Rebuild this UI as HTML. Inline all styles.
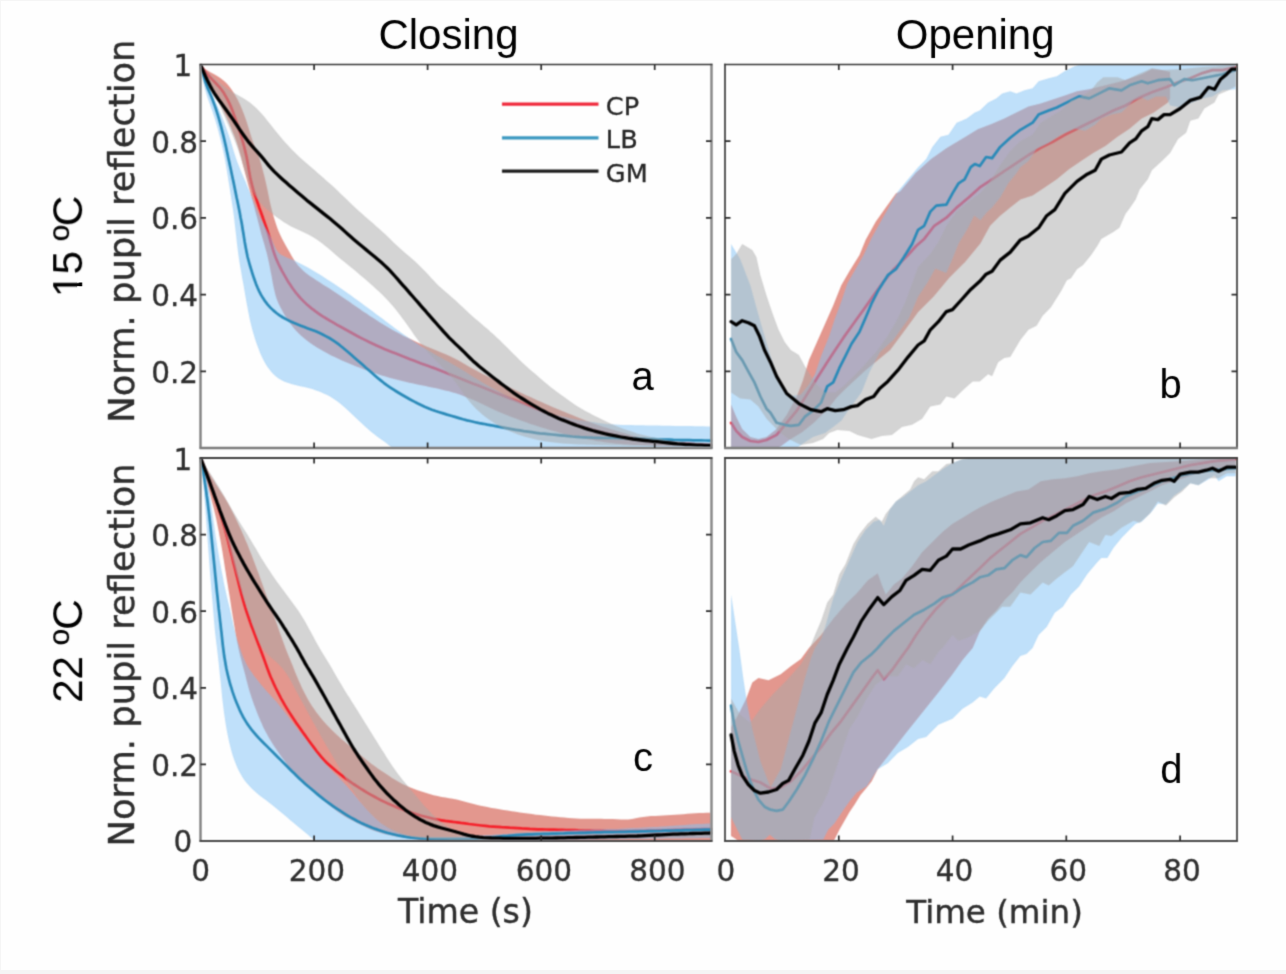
<!DOCTYPE html>
<html lang="en">
<head>
<meta charset="utf-8">
<title>Pupil reflection: closing and opening</title>
<style>
html,body{margin:0;padding:0;background:#f5f5f5;}
body{width:1286px;height:974px;overflow:hidden;position:relative;}
#fig{position:absolute;left:1px;top:1px;width:1285px;height:969px;background:#fefefe;}
svg{position:absolute;left:0;top:0;display:block;}
</style>
</head>
<body>
<div id="fig"></div>
<svg width="1286" height="974" viewBox="0 0 1286 974">
<defs><filter id="bl1" filterUnits="userSpaceOnUse" x="0" y="0" width="1286" height="974" color-interpolation-filters="sRGB"><feConvolveMatrix order="3" kernelMatrix="0.0535 0.1243 0.0535 0.1243 0.2890 0.1243 0.0535 0.1243 0.0535" divisor="1" edgeMode="none" preserveAlpha="false"/></filter><filter id="bl2" filterUnits="userSpaceOnUse" x="0" y="0" width="1286" height="974" color-interpolation-filters="sRGB"><feConvolveMatrix order="3" kernelMatrix="0.0324 0.1152 0.0324 0.1152 0.4096 0.1152 0.0324 0.1152 0.0324" divisor="1" edgeMode="none" preserveAlpha="false"/></filter><filter id="bl3" filterUnits="userSpaceOnUse" x="0" y="0" width="1286" height="974" color-interpolation-filters="sRGB"><feConvolveMatrix order="3" kernelMatrix="0.0283 0.1116 0.0283 0.1116 0.4404 0.1116 0.0283 0.1116 0.0283" divisor="1" edgeMode="none" preserveAlpha="false"/></filter><filter id="bl4" filterUnits="userSpaceOnUse" x="0" y="0" width="1286" height="974" color-interpolation-filters="sRGB"><feConvolveMatrix order="3" kernelMatrix="0.0156 0.0938 0.0156 0.0938 0.5625 0.0938 0.0156 0.0938 0.0156" divisor="1" edgeMode="none" preserveAlpha="false"/></filter>
<clipPath id="clip-a"><rect x="200.5" y="64.5" width="511.0" height="383.5"/></clipPath>
<clipPath id="clip-b"><rect x="725.0" y="64.5" width="512.0" height="383.5"/></clipPath>
<clipPath id="clip-c"><rect x="200.5" y="458.0" width="511.0" height="383.0"/></clipPath>
<clipPath id="clip-d"><rect x="725.0" y="458.0" width="512.0" height="383.0"/></clipPath>
</defs>
<g filter="url(#bl1)">
<g clip-path="url(#clip-a)">
<polygon points="201.1,66.1 204.0,68.4 207.1,70.3 210.4,72.2 213.7,74.0 217.2,76.0 220.6,78.2 223.8,80.7 226.8,83.6 229.5,86.7 231.9,90.0 234.2,93.4 236.2,97.0 238.2,100.8 240.0,104.6 241.7,108.6 243.3,112.6 244.8,116.6 246.3,120.7 247.6,124.7 248.8,128.7 250.0,132.7 251.2,136.6 252.4,140.3 253.8,144.0 255.3,147.6 256.8,151.3 258.2,154.9 259.5,158.6 260.7,162.4 261.7,166.1 262.7,169.9 263.7,173.8 264.7,177.6 265.6,181.5 266.5,185.4 267.4,189.4 268.2,193.4 269.0,197.5 269.8,201.5 270.7,205.5 271.7,209.5 272.7,213.3 273.8,217.2 275.0,221.0 276.2,224.7 277.5,228.4 278.9,232.0 280.5,235.6 282.2,239.1 284.1,242.6 286.0,246.0 288.0,249.4 289.9,252.8 291.8,256.2 293.8,259.6 296.0,262.8 298.3,265.8 301.0,268.6 303.8,271.3 306.8,273.7 309.9,276.0 313.1,278.1 316.3,280.3 319.6,282.3 322.8,284.4 326.2,286.5 329.5,288.6 332.8,290.8 336.2,293.0 339.6,295.2 342.9,297.5 346.3,299.7 349.7,302.0 353.0,304.4 356.4,306.7 359.8,309.0 363.1,311.4 366.5,313.6 369.9,315.9 373.3,318.1 376.6,320.3 380.0,322.4 383.4,324.5 386.7,326.5 390.1,328.5 393.5,330.4 396.9,332.2 400.3,334.1 403.7,335.9 407.3,337.6 410.9,339.3 414.5,341.0 418.1,342.7 421.8,344.3 425.5,345.9 429.1,347.5 432.8,349.0 436.5,350.5 440.1,352.0 443.8,353.6 447.4,355.1 451.1,356.8 454.6,358.5 458.1,360.3 461.6,362.2 465.0,364.2 468.4,366.2 471.9,368.2 475.4,370.1 479.0,372.0 482.6,373.9 486.3,375.8 489.9,377.6 493.6,379.4 497.3,381.3 501.0,383.1 504.6,384.9 508.3,386.8 512.0,388.6 515.7,390.3 519.3,392.1 523.0,393.7 526.7,395.4 530.4,397.1 534.0,398.7 537.7,400.4 541.4,402.0 545.1,403.7 548.7,405.3 552.4,406.9 556.1,408.5 559.8,410.1 563.4,411.6 567.1,413.1 570.8,414.5 574.5,416.0 578.1,417.5 581.8,419.0 585.5,420.4 589.2,421.8 592.9,423.2 596.5,424.6 600.2,425.8 603.9,427.0 607.6,428.1 611.2,429.2 614.9,430.3 618.6,431.5 622.3,432.6 625.9,433.6 629.7,434.7 633.4,435.8 637.2,436.7 641.1,437.7 645.1,438.5 649.1,439.3 653.1,440.0 657.1,440.6 661.1,441.0 665.1,441.4 669.1,441.7 673.1,441.9 677.0,442.1 681.0,442.4 685.0,442.6 688.9,442.8 692.9,443.0 696.9,443.3 700.8,443.5 704.8,443.7 708.8,443.9 710.8,444.0 710.8,446.7 708.8,446.6 704.8,446.6 700.8,446.6 696.9,446.5 692.9,446.5 688.9,446.4 685.0,446.4 681.0,446.3 677.0,446.3 673.1,446.2 669.1,446.2 665.1,446.1 661.1,446.1 657.1,445.9 653.1,445.8 649.1,445.6 645.1,445.5 641.0,445.3 637.0,445.1 632.9,444.9 628.9,444.6 624.8,444.4 620.8,444.1 616.7,443.7 612.7,443.3 608.7,442.8 604.6,442.2 600.6,441.5 596.5,440.9 592.5,440.1 588.4,439.4 584.4,438.6 580.4,437.7 576.3,436.8 572.3,435.9 568.2,434.9 564.2,433.9 560.3,432.9 556.4,431.8 552.5,430.8 548.8,429.7 545.1,428.6 541.4,427.5 537.7,426.3 534.0,425.1 530.4,423.9 526.7,422.6 523.0,421.3 519.3,420.0 515.7,418.6 512.0,417.2 508.3,415.8 504.6,414.3 501.0,412.8 497.3,411.2 493.6,409.6 489.9,407.8 486.2,406.1 482.6,404.3 478.9,402.5 475.2,400.8 471.5,399.2 467.8,397.7 464.1,396.2 460.3,394.8 456.6,393.5 452.8,392.4 448.9,391.3 445.0,390.4 441.2,389.5 437.3,388.6 433.3,387.7 429.4,386.9 425.4,386.0 421.4,385.2 417.4,384.4 413.4,383.5 409.3,382.7 405.3,381.8 401.2,380.8 397.2,379.8 393.2,378.8 389.3,377.7 385.5,376.6 381.7,375.5 378.0,374.3 374.3,373.0 370.7,371.8 367.1,370.5 363.5,369.2 359.9,367.8 356.3,366.5 352.7,365.0 349.1,363.5 345.5,362.0 341.9,360.4 338.3,358.8 334.7,357.1 331.1,355.4 327.6,353.5 324.0,351.6 320.5,349.6 317.0,347.5 313.5,345.3 310.2,343.0 306.9,340.6 303.8,338.1 300.8,335.5 298.0,332.8 295.4,329.9 292.9,327.0 290.6,323.9 288.3,320.6 286.1,317.3 284.0,313.9 282.0,310.3 280.1,306.7 278.3,303.0 276.8,299.3 275.6,295.4 274.6,291.6 273.7,287.6 272.9,283.7 272.2,279.8 271.5,275.8 270.7,271.9 270.0,268.0 269.2,264.0 268.4,260.2 267.5,256.3 266.6,252.5 265.5,248.8 264.5,245.1 263.4,241.3 262.3,237.5 261.2,233.7 260.2,229.8 259.2,225.8 258.1,221.7 257.1,217.7 256.0,213.7 254.9,209.6 253.9,205.6 252.8,201.5 251.7,197.5 250.6,193.4 249.5,189.4 248.4,185.4 247.3,181.3 246.3,177.4 245.2,173.4 244.2,169.5 243.2,165.7 242.2,161.9 241.3,158.1 240.3,154.4 239.2,150.6 238.1,146.8 236.9,143.1 235.6,139.3 234.2,135.6 232.7,131.9 231.2,128.1 229.7,124.4 228.1,120.7 226.4,117.0 224.6,113.2 222.8,109.5 221.0,105.8 219.1,102.1 217.3,98.5 215.4,94.8 213.6,91.1 211.8,87.5 210.0,83.8 208.2,80.1 206.4,76.4 204.6,72.6 202.8,68.8 201.1,65.1" fill="#c8301e" fill-opacity="0.50"/>
<polyline points="201.1,66.1 203.4,69.4 205.9,72.5 208.5,75.5 211.1,78.4 213.8,81.1 216.5,84.0 219.2,86.9 221.7,90.0 224.0,93.3 226.0,96.8 227.9,100.3 229.6,103.9 231.2,107.5 232.6,111.1 234.0,114.9 235.4,118.8 236.8,122.7 238.1,126.7 239.4,130.7 240.7,134.7 241.8,138.5 243.0,142.4 244.0,146.2 245.0,150.1 245.9,154.0 246.8,157.9 247.5,161.8 248.2,165.7 248.8,169.6 249.5,173.6 250.2,177.5 251.1,181.4 252.1,185.4 253.2,189.4 254.4,193.3 255.7,197.1 256.9,200.8 258.2,204.5 259.4,208.1 260.7,211.6 262.0,215.2 263.2,218.8 264.5,222.4 265.8,226.2 267.1,230.0 268.4,233.9 269.6,237.8 270.7,241.6 271.8,245.5 272.9,249.3 274.1,253.0 275.4,256.7 276.9,260.4 278.5,264.0 280.3,267.6 282.1,271.2 284.1,274.7 286.1,278.2 288.2,281.7 290.4,285.1 292.7,288.5 295.2,291.8 297.8,295.0 300.5,298.1 303.4,301.1 306.3,303.9 309.4,306.6 312.6,309.2 315.9,311.7 319.3,314.1 322.7,316.4 326.3,318.5 329.8,320.6 333.4,322.7 337.0,324.8 340.6,326.8 344.2,328.8 347.8,330.8 351.4,332.8 355.0,334.8 358.6,336.7 362.3,338.6 365.9,340.4 369.6,342.3 373.3,344.0 377.0,345.7 380.6,347.3 384.3,348.9 388.0,350.4 391.7,351.9 395.3,353.3 399.0,354.8 402.7,356.3 406.4,357.7 410.0,359.2 413.7,360.6 417.4,362.0 421.1,363.4 424.8,364.7 428.4,366.0 432.1,367.4 435.9,368.7 439.6,370.2 443.4,371.7 447.2,373.2 451.0,374.7 454.7,376.2 458.5,377.7 462.2,379.2 465.9,380.7 469.6,382.2 473.3,383.7 477.0,385.1 480.7,386.6 484.4,388.1 488.1,389.5 491.8,391.0 495.4,392.5 499.1,394.0 502.8,395.4 506.5,396.9 510.1,398.4 513.8,399.8 517.5,401.3 521.2,402.8 524.8,404.2 528.5,405.7 532.2,407.2 535.9,408.7 539.5,410.1 543.2,411.6 546.9,413.1 550.6,414.5 554.3,416.0 557.9,417.5 561.6,419.0 565.3,420.4 569.0,421.8 572.6,423.2 576.3,424.6 580.0,425.8 583.7,427.0 587.4,428.1 591.1,429.2 594.9,430.3 598.7,431.4 602.7,432.4 606.7,433.4 610.7,434.4 614.7,435.3 618.8,436.3 622.8,437.1 626.9,437.9 630.9,438.7 634.9,439.4 639.0,440.0 643.0,440.5 647.1,441.0 651.1,441.4 655.1,441.7 659.1,442.0 663.1,442.3 667.1,442.6 671.1,442.8 675.0,443.0 679.0,443.3 683.0,443.5 686.9,443.7 690.9,443.9 694.9,444.2 698.9,444.4 702.8,444.6 706.8,444.8 710.8,445.1 710.8,445.1" fill="none" stroke="#f5202a" stroke-width="2.7" stroke-linejoin="round" stroke-linecap="round"/>
<polygon points="201.1,66.1 202.4,69.9 203.8,73.7 205.2,77.5 206.7,81.3 208.2,85.1 209.9,88.9 211.5,92.7 213.2,96.4 214.9,100.1 216.5,103.8 218.1,107.4 219.6,111.0 221.1,114.6 222.6,118.2 224.0,121.8 225.3,125.4 226.6,129.1 227.9,132.8 229.2,136.5 230.5,140.3 231.7,144.2 232.8,148.0 234.0,151.9 235.2,155.8 236.5,159.7 237.9,163.5 239.4,167.2 240.9,171.0 242.5,174.7 244.1,178.4 245.7,182.1 247.2,185.9 248.8,189.6 250.3,193.4 251.9,197.1 253.4,200.9 254.9,204.7 256.4,208.5 258.0,212.2 259.6,215.9 261.2,219.6 263.0,223.1 264.9,226.5 266.8,229.8 268.6,233.2 270.4,236.6 272.0,240.1 273.5,243.7 275.0,247.1 276.7,250.2 278.6,252.8 281.1,254.8 284.1,256.3 287.3,257.7 290.7,259.0 294.2,260.5 297.7,262.2 301.1,263.9 304.5,265.7 307.9,267.6 311.3,269.5 314.6,271.4 318.0,273.5 321.4,275.5 324.7,277.7 328.1,279.9 331.4,282.1 334.8,284.3 338.1,286.5 341.4,288.8 344.6,291.1 347.8,293.3 351.1,295.6 354.3,297.9 357.5,300.2 360.7,302.5 363.9,304.9 367.0,307.2 370.1,309.5 373.2,311.8 376.3,314.2 379.5,316.5 382.6,318.8 385.7,321.2 388.8,323.5 391.9,325.8 395.0,328.2 398.2,330.5 401.3,332.8 404.5,335.0 407.7,337.3 411.0,339.5 414.2,341.7 417.5,343.8 420.8,345.9 424.2,348.0 427.5,350.0 430.9,352.0 434.3,354.0 437.7,355.9 441.1,357.8 444.5,359.7 447.9,361.6 451.4,363.5 454.8,365.4 458.2,367.4 461.6,369.5 465.0,371.6 468.4,373.7 471.8,375.9 475.2,378.0 478.6,380.1 482.0,382.2 485.5,384.2 489.0,386.2 492.5,388.2 496.0,390.1 499.6,392.0 503.2,393.9 506.7,395.8 510.4,397.6 514.0,399.4 517.7,401.1 521.4,402.8 525.1,404.3 528.9,405.9 532.7,407.4 536.5,408.9 540.3,410.3 544.1,411.6 547.9,412.8 551.7,413.9 555.5,414.9 559.3,415.8 563.0,416.7 566.8,417.5 570.7,418.4 574.5,419.2 578.5,419.9 582.4,420.6 586.4,421.2 590.5,421.7 594.5,422.3 598.6,422.9 602.6,423.4 606.6,423.9 610.7,424.3 614.7,424.6 618.7,424.8 622.7,425.0 626.7,425.1 630.7,425.1 634.7,425.2 638.7,425.3 642.7,425.3 646.7,425.4 650.7,425.5 654.7,425.5 658.7,425.6 662.7,425.7 666.7,425.7 670.7,425.8 674.7,425.9 678.7,425.9 682.7,426.0 686.7,426.1 690.8,426.1 694.8,426.2 698.8,426.3 702.8,426.3 706.8,426.4 710.8,426.5 710.8,426.5 711.5,460.0 711.5,460.0 707.5,460.0 703.5,459.9 699.5,459.9 695.5,459.9 691.5,459.8 687.5,459.8 683.5,459.7 679.5,459.7 675.5,459.7 671.5,459.6 667.5,459.6 663.5,459.6 659.4,459.5 655.4,459.5 651.4,459.5 647.4,459.4 643.4,459.4 639.4,459.4 635.4,459.3 631.4,459.3 627.4,459.2 623.4,459.2 619.4,459.2 615.4,459.1 611.4,459.1 607.4,459.1 603.4,459.0 599.4,459.0 595.4,459.0 591.4,458.9 587.4,458.9 583.4,458.9 579.4,458.8 575.4,458.8 571.4,458.7 567.4,458.7 563.4,458.7 559.3,458.6 555.3,458.6 551.3,458.6 547.3,458.5 543.3,458.5 539.3,458.5 535.3,458.4 531.3,458.4 527.3,458.3 523.3,458.3 519.3,458.3 515.3,458.2 511.3,458.2 507.3,458.2 503.3,458.1 499.3,458.1 495.3,458.1 491.3,458.0 487.3,458.0 483.3,458.0 479.3,457.9 475.3,457.9 471.3,457.8 467.3,457.8 463.3,457.8 459.2,457.7 455.2,457.7 451.2,457.7 447.2,457.6 443.2,457.6 439.2,457.6 435.2,457.5 431.2,457.5 427.2,457.5 423.2,457.4 419.2,457.4 415.2,457.3 411.2,457.3 407.3,457.0 403.7,456.4 400.4,455.2 397.4,453.3 394.7,451.0 392.1,448.3 389.4,445.7 386.5,443.3 383.4,441.0 380.2,438.8 377.0,436.5 373.9,434.0 370.7,431.5 367.6,428.8 364.5,426.1 361.6,423.3 358.6,420.6 355.7,417.8 352.8,415.0 349.9,412.2 346.9,409.4 343.9,406.7 340.7,404.1 337.5,401.6 334.2,399.2 330.8,397.1 327.2,395.1 323.6,393.4 319.9,391.8 316.1,390.4 312.2,389.1 308.2,388.0 304.2,387.1 300.1,386.2 296.1,385.3 292.2,384.3 288.3,383.1 284.6,381.7 281.1,379.9 277.8,377.9 274.8,375.5 272.0,372.8 269.6,369.8 267.3,366.7 265.3,363.5 263.4,360.0 261.7,356.5 260.1,352.9 258.7,349.3 257.3,345.6 256.0,341.9 254.8,338.2 253.7,334.5 252.6,330.8 251.6,327.1 250.7,323.3 249.8,319.4 249.0,315.5 248.2,311.6 247.5,307.6 246.7,303.5 246.0,299.5 245.3,295.4 244.6,291.4 243.9,287.3 243.2,283.3 242.4,279.2 241.7,275.2 241.0,271.1 240.3,267.1 239.6,263.0 239.0,259.0 238.4,255.0 237.9,251.0 237.4,247.1 236.9,243.1 236.5,239.2 236.1,235.3 235.6,231.3 235.2,227.4 234.7,223.5 234.3,219.5 233.8,215.6 233.3,211.7 232.7,207.8 232.1,203.9 231.5,200.0 230.9,196.1 230.3,192.2 229.7,188.3 229.1,184.4 228.4,180.5 227.8,176.6 227.2,172.8 226.6,168.9 225.9,165.1 225.3,161.4 224.6,157.6 223.8,153.8 223.0,149.9 222.1,146.0 221.2,142.2 220.2,138.3 219.2,134.5 218.2,130.6 217.1,126.6 216.0,122.7 214.8,118.8 213.6,114.9 212.3,111.1 211.0,107.5 209.7,103.8 208.4,100.2 207.1,96.5 206.0,92.8 204.9,89.0 204.0,85.2 203.2,81.3 202.6,77.5 202.0,73.7 201.5,69.9 201.1,66.1" fill="#7fc1f5" fill-opacity="0.50"/>
<polyline points="201.1,66.1 202.0,69.9 202.9,73.7 203.9,77.4 205.1,81.2 206.4,84.8 207.8,88.4 209.4,92.0 210.9,95.6 212.4,99.3 213.8,103.1 215.2,106.9 216.5,110.8 217.7,114.7 218.9,118.7 220.0,122.7 221.1,126.6 222.1,130.6 223.1,134.5 224.0,138.3 224.9,142.2 225.8,146.1 226.6,150.0 227.5,154.0 228.3,157.9 229.2,161.9 230.0,165.8 230.9,169.8 231.7,173.7 232.5,177.6 233.4,181.6 234.2,185.5 235.0,189.5 235.8,193.5 236.6,197.5 237.5,201.5 238.3,205.6 239.1,209.6 239.9,213.6 240.6,217.7 241.4,221.6 242.1,225.6 242.7,229.5 243.4,233.5 244.0,237.4 244.6,241.3 245.3,245.2 246.0,249.1 246.8,253.1 247.6,257.0 248.7,261.0 249.8,265.0 251.0,268.9 252.2,272.8 253.4,276.5 254.7,280.2 256.0,283.9 257.5,287.5 259.1,291.1 260.9,294.6 263.0,298.1 265.2,301.4 267.7,304.6 270.4,307.6 273.3,310.4 276.4,313.0 279.6,315.3 283.0,317.5 286.5,319.4 290.1,321.2 293.6,322.8 297.2,324.3 300.8,325.7 304.4,327.1 307.9,328.4 311.5,329.7 315.1,331.1 318.6,332.6 322.2,334.2 325.7,336.1 329.3,338.0 332.7,340.1 336.0,342.3 339.2,344.7 342.3,347.2 345.3,349.7 348.3,352.2 351.2,354.8 354.2,357.4 357.1,360.0 360.1,362.5 363.0,365.1 365.9,367.7 368.9,370.2 371.8,372.8 374.8,375.4 377.7,377.9 380.7,380.4 383.7,382.8 386.8,385.1 390.0,387.3 393.2,389.4 396.5,391.5 399.8,393.5 403.2,395.5 406.7,397.5 410.2,399.5 413.8,401.4 417.4,403.3 421.0,405.0 424.6,406.7 428.2,408.2 431.9,409.7 435.6,411.0 439.4,412.2 443.2,413.4 447.1,414.6 451.0,415.7 455.0,416.9 459.0,418.1 463.0,419.3 467.1,420.4 471.2,421.3 475.2,422.2 479.3,423.1 483.3,423.8 487.3,424.6 491.4,425.3 495.4,426.1 499.5,426.9 503.5,427.6 507.6,428.4 511.6,429.1 515.7,429.8 519.7,430.4 523.7,431.1 527.8,431.7 531.8,432.2 535.9,432.8 539.9,433.3 544.0,433.7 548.0,434.1 552.0,434.5 556.1,434.9 560.1,435.3 564.2,435.7 568.2,436.1 572.3,436.5 576.3,436.8 580.4,437.1 584.4,437.3 588.4,437.5 592.5,437.7 596.5,437.8 600.6,437.9 604.6,438.0 608.7,438.0 612.7,438.0 616.7,438.1 620.8,438.1 624.8,438.2 628.9,438.3 632.9,438.5 637.0,438.6 641.0,438.8 645.1,438.9 649.1,439.1 653.1,439.2 657.2,439.4 661.2,439.5 665.3,439.6 669.3,439.7 673.3,439.9 677.3,440.0 681.3,440.1 685.2,440.1 689.2,440.2 693.1,440.3 697.0,440.4 701.0,440.4 704.9,440.5 708.8,440.6 710.8,440.6" fill="none" stroke="#2a8ab8" stroke-width="2.7" stroke-linejoin="round" stroke-linecap="round"/>
<polygon points="201.1,66.1 204.1,68.8 207.1,71.4 210.1,74.1 213.0,76.7 216.0,79.4 219.0,82.1 222.1,84.7 225.3,87.3 228.7,89.7 232.2,91.9 235.8,94.0 239.4,96.0 243.0,98.0 246.5,100.2 249.9,102.6 253.1,105.2 256.2,108.0 259.1,110.9 261.9,114.0 264.6,117.1 267.2,120.4 269.9,123.7 272.5,127.1 275.2,130.4 277.9,133.7 280.6,137.0 283.3,140.2 286.0,143.3 288.8,146.3 291.5,149.2 294.3,152.0 297.1,154.7 300.0,157.4 302.8,159.9 305.7,162.4 308.6,165.0 311.5,167.5 314.5,170.1 317.4,172.7 320.4,175.2 323.3,177.8 326.2,180.4 329.2,183.0 332.1,185.6 335.1,188.3 338.0,191.1 340.9,193.9 343.9,196.8 346.8,199.6 349.8,202.5 352.7,205.3 355.6,208.0 358.6,210.7 361.5,213.3 364.5,215.9 367.4,218.4 370.3,221.0 373.3,223.6 376.2,226.2 379.2,228.8 382.1,231.4 385.0,234.1 387.8,236.8 390.7,239.6 393.6,242.4 396.6,245.2 399.6,247.9 402.7,250.7 405.8,253.4 408.9,256.0 412.0,258.7 414.9,261.3 417.8,264.0 420.5,266.7 423.3,269.4 426.0,272.2 428.6,275.1 431.2,278.0 433.9,280.8 436.6,283.7 439.5,286.4 442.4,289.1 445.5,291.7 448.5,294.3 451.5,296.9 454.5,299.6 457.4,302.2 460.3,304.9 463.1,307.6 466.0,310.3 468.9,313.0 471.9,315.7 475.0,318.4 478.1,321.0 481.3,323.7 484.4,326.4 487.6,329.1 490.7,331.9 493.7,334.6 496.7,337.4 499.6,340.1 502.5,343.0 505.3,345.8 508.2,348.6 511.0,351.4 513.8,354.3 516.7,357.1 519.6,359.9 522.5,362.7 525.5,365.5 528.5,368.2 531.6,370.9 534.8,373.6 537.9,376.3 541.0,379.0 544.2,381.7 547.3,384.3 550.5,386.9 553.6,389.3 556.8,391.7 559.9,394.0 563.1,396.3 566.2,398.6 569.3,400.8 572.5,403.0 575.7,405.2 579.0,407.3 582.4,409.3 585.8,411.3 589.4,413.1 592.9,414.9 596.5,416.7 600.1,418.5 603.7,420.3 607.3,422.0 610.9,423.7 614.5,425.3 618.1,426.8 621.7,428.2 625.4,429.5 629.2,430.8 633.1,432.1 637.0,433.4 641.0,434.5 645.1,435.6 649.1,436.5 653.1,437.4 657.2,438.2 661.2,439.0 665.3,439.7 669.3,440.4 673.3,441.1 677.3,441.6 681.3,442.1 685.2,442.4 689.2,442.7 693.1,443.0 697.0,443.2 701.0,443.4 704.9,443.7 708.8,443.9 710.8,444.0 710.8,446.7 710.8,446.7 706.8,446.6 702.8,446.6 698.8,446.6 694.8,446.5 690.8,446.5 686.8,446.5 682.8,446.4 678.9,446.4 674.9,446.4 670.9,446.3 666.9,446.3 662.9,446.3 658.9,446.2 654.9,446.2 650.9,446.2 646.9,446.1 642.9,446.1 638.9,446.0 634.9,446.0 630.9,445.9 626.9,445.8 622.8,445.7 618.8,445.6 614.7,445.5 610.7,445.4 606.6,445.3 602.6,445.2 598.6,445.1 594.5,445.0 590.5,444.8 586.4,444.7 582.4,444.5 578.3,444.4 574.3,444.2 570.2,444.0 566.2,443.7 562.2,443.4 558.1,443.0 554.1,442.5 550.0,442.0 546.0,441.5 541.9,440.8 537.9,440.0 533.9,439.1 529.8,438.1 525.8,437.0 521.8,435.7 517.9,434.4 514.1,433.0 510.4,431.5 506.7,429.9 503.1,428.2 499.6,426.3 496.1,424.3 492.7,422.1 489.3,419.8 486.1,417.4 482.9,414.9 479.9,412.3 477.0,409.7 474.2,406.9 471.6,404.0 469.0,401.0 466.6,397.9 464.3,394.8 462.1,391.6 460.0,388.5 457.8,385.3 455.5,382.2 453.2,379.2 450.7,376.2 448.2,373.4 445.5,370.6 442.9,367.7 440.2,364.9 437.4,362.1 434.7,359.2 431.9,356.3 429.1,353.4 426.4,350.5 423.8,347.4 421.3,344.4 418.8,341.2 416.4,338.0 414.0,334.7 411.7,331.3 409.4,328.0 407.1,324.8 404.8,321.5 402.5,318.4 400.2,315.3 397.8,312.2 395.3,309.1 392.8,306.1 390.3,303.2 387.7,300.3 385.0,297.5 382.3,294.8 379.5,292.1 376.6,289.4 373.7,286.7 370.6,284.0 367.5,281.3 364.4,278.6 361.2,275.9 358.1,273.2 355.0,270.6 351.8,268.0 348.7,265.4 345.7,263.0 342.6,260.6 339.7,258.2 336.8,255.8 333.9,253.3 331.1,250.8 328.2,248.3 325.3,245.9 322.3,243.6 319.2,241.3 316.0,239.1 312.7,237.0 309.2,235.1 305.6,233.2 301.9,231.5 298.1,229.8 294.3,228.0 290.6,226.2 287.0,224.1 283.5,221.9 280.1,219.6 276.7,217.2 273.4,214.7 270.2,212.1 267.0,209.5 264.0,206.7 261.2,203.8 258.6,200.7 256.3,197.6 254.2,194.4 252.4,191.1 250.8,187.6 249.3,184.1 248.0,180.5 246.8,176.8 245.6,173.1 244.4,169.4 243.2,165.7 242.1,162.0 240.9,158.2 239.7,154.5 238.5,150.7 237.2,147.0 235.8,143.2 234.3,139.5 232.8,135.7 231.2,132.0 229.7,128.3 228.1,124.6 226.4,120.8 224.8,117.1 223.1,113.4 221.5,109.7 219.8,106.0 218.1,102.3 216.5,98.7 214.8,95.0 213.2,91.3 211.5,87.7 209.9,84.0 208.2,80.2 206.4,76.5 204.6,72.7 202.9,68.9 201.1,65.1" fill="#a9a9a9" fill-opacity="0.50"/>
<polyline points="201.1,66.1 202.5,69.5 204.0,73.0 205.5,76.4 207.1,79.8 208.8,83.2 210.5,86.6 212.4,90.0 214.4,93.3 216.5,96.5 218.7,99.7 221.0,102.8 223.3,106.0 225.7,109.3 228.2,112.7 230.5,116.0 232.9,119.4 235.2,122.7 237.4,126.0 239.6,129.4 241.9,132.7 244.2,136.0 246.6,139.3 249.0,142.4 251.5,145.3 253.9,148.1 256.4,150.8 258.9,153.6 261.3,156.4 263.8,159.4 266.3,162.5 268.8,165.6 271.5,168.6 274.3,171.6 277.2,174.4 280.2,177.2 283.2,179.9 286.2,182.6 289.4,185.4 292.5,188.0 295.6,190.7 298.8,193.4 301.9,196.1 305.1,198.8 308.2,201.4 311.4,203.9 314.5,206.4 317.7,208.9 320.8,211.4 323.9,213.9 327.1,216.4 330.2,218.8 333.3,221.4 336.3,223.9 339.3,226.5 342.2,229.0 345.0,231.6 347.9,234.2 350.8,236.8 353.8,239.4 356.8,242.0 359.8,244.5 362.9,247.1 366.0,249.6 369.1,252.2 372.2,254.7 375.3,257.3 378.2,259.8 381.2,262.3 384.0,264.9 386.8,267.5 389.5,270.2 392.2,273.1 394.8,276.0 397.4,278.9 399.9,281.8 402.5,284.8 405.1,287.7 407.7,290.7 410.2,293.6 412.8,296.5 415.4,299.5 418.0,302.4 420.5,305.4 423.1,308.3 425.7,311.2 428.2,314.2 430.8,317.1 433.4,320.1 436.0,323.0 438.6,326.0 441.2,328.9 443.8,331.9 446.6,334.9 449.3,337.8 452.2,340.7 455.2,343.6 458.2,346.4 461.2,349.2 464.2,352.1 467.1,355.1 470.0,358.0 473.0,360.9 476.0,363.6 479.1,366.3 482.2,368.8 485.3,371.3 488.5,373.7 491.6,376.2 494.8,378.7 498.0,381.1 501.1,383.6 504.4,386.0 507.6,388.4 510.8,390.8 514.0,393.1 517.3,395.3 520.5,397.5 523.8,399.5 527.1,401.6 530.4,403.6 533.8,405.6 537.3,407.6 540.8,409.6 544.4,411.5 548.0,413.4 551.6,415.1 555.2,416.8 558.8,418.4 562.4,419.9 566.0,421.3 569.6,422.8 573.2,424.1 576.9,425.5 580.7,426.8 584.6,428.1 588.5,429.3 592.5,430.5 596.5,431.6 600.6,432.7 604.6,433.7 608.7,434.6 612.7,435.4 616.7,436.2 620.8,437.0 624.8,437.7 628.9,438.4 632.9,439.0 637.0,439.5 641.0,440.0 645.1,440.5 649.1,440.9 653.1,441.3 657.2,441.7 661.2,442.1 665.3,442.6 669.3,443.0 673.4,443.5 677.4,443.9 681.4,444.2 685.5,444.5 689.5,444.7 693.4,444.9 697.3,445.1 701.2,445.2 705.0,445.3 708.9,445.4 710.8,445.5" fill="none" stroke="#000000" stroke-width="3.3" stroke-linejoin="round" stroke-linecap="round"/>
</g>
<g clip-path="url(#clip-b)">
<polygon points="731.1,404.6 736.2,416.7 742.2,428.9 750.3,437.0 758.4,439.0 766.5,437.0 776.6,428.9 786.7,414.7 796.8,396.5 802.9,380.4 809.0,360.1 817.0,341.9 825.1,323.7 833.2,305.5 841.3,285.3 849.4,271.2 859.5,255.0 865.6,239.9 875.7,221.7 885.8,207.6 895.9,193.4 900.0,191.5 915.6,172.9 931.1,158.9 946.7,148.0 962.2,138.7 977.8,129.3 992.1,123.7 1004.3,118.6 1016.4,112.6 1028.5,106.5 1040.7,103.5 1052.8,99.4 1064.9,95.4 1077.0,91.3 1089.2,89.3 1101.3,86.3 1121.5,81.2 1141.7,74.2 1151.9,69.1 1162.0,70.1 1170.1,72.1 1170.1,98.4 1168.0,102.5 1153.9,112.6 1141.7,118.6 1129.6,128.7 1117.5,136.8 1105.4,145.9 1093.2,153.0 1081.1,161.1 1069.0,169.2 1056.8,179.3 1044.7,187.4 1032.6,195.5 1020.4,199.5 1010.3,207.6 1000.2,215.7 990.1,225.8 980.4,243.5 964.9,262.2 949.3,277.8 933.7,296.4 918.2,312.0 905.8,329.1 890.2,350.0 878.0,360.0 866.0,370.0 855.0,380.0 844.4,390.0 836.9,397.4 827.0,409.9 814.5,422.3 802.1,432.3 789.7,439.7 778.5,448.0 778.0,470.0 731.0,470.0" fill="#c8301e" fill-opacity="0.50"/>
<polyline points="731.1,422.8 736.2,430.9 742.2,437.0 750.3,441.0 758.4,442.0 766.5,440.0 776.6,434.9 786.7,422.8 796.8,410.7 806.9,394.5 817.0,378.3 827.2,362.2 835.2,350.0 843.3,337.9 853.4,323.7 863.6,309.6 873.7,295.4 883.8,281.3 893.9,269.2 902.0,261.1 908.0,255.0 916.1,246.0 924.2,238.9 934.3,225.8 946.4,217.7 956.6,207.6 968.7,197.5 979.8,187.4 992.1,179.3 1004.3,171.2 1016.4,163.1 1028.5,155.0 1040.7,147.9 1052.8,141.9 1064.9,134.8 1077.0,128.7 1089.2,122.7 1101.3,116.6 1113.4,110.5 1125.6,105.5 1139.7,97.4 1151.9,92.3 1166.0,87.3 1178.1,82.2 1190.3,78.2 1202.4,73.1 1212.5,70.1 1222.6,70.1 1235.8,67.1" fill="none" stroke="#f5202a" stroke-width="2.7" stroke-linejoin="round" stroke-linecap="round"/>
<polygon points="731.1,244.1 740.2,259.0 750.3,285.3 760.4,321.7 770.5,356.1 780.7,384.4 788.7,396.5 800.9,394.5 809.0,384.4 815.0,374.3 821.1,356.1 829.2,335.9 835.2,317.7 841.3,301.5 847.4,283.3 855.5,269.2 863.6,255.0 871.6,237.9 881.7,219.7 889.8,205.6 897.9,191.4 908.0,179.3 918.1,167.2 926.2,159.1 932.3,146.9 940.4,136.8 948.5,134.8 956.6,122.7 966.7,118.6 974.8,112.6 979.8,110.5 988.1,102.5 996.2,98.4 1002.2,93.4 1010.3,91.3 1016.4,93.4 1024.5,90.3 1032.6,88.3 1038.6,81.2 1048.7,78.2 1056.8,76.2 1064.9,71.1 1075.0,66.1 1085.1,63.0 1235.8,63.0 1235.8,89.3 1222.6,90.3 1212.5,96.4 1202.4,98.4 1190.3,103.5 1180.2,107.5 1170.1,105.5 1166.0,96.4 1155.9,96.4 1147.8,100.4 1141.7,97.4 1133.7,100.4 1121.5,112.6 1111.4,114.6 1101.3,118.6 1095.2,124.7 1085.1,130.8 1075.0,128.7 1060.9,134.8 1048.7,142.9 1036.6,149.0 1028.5,161.1 1020.4,167.2 1016.4,173.2 1008.3,183.3 1000.2,197.5 992.1,207.6 986.6,212.4 980.4,220.2 974.2,215.6 968.0,228.0 958.6,243.5 952.4,259.1 946.2,273.1 935.3,268.4 927.5,282.4 918.2,296.4 908.9,318.2 893.3,340.0 880.0,352.0 869.6,372.0 861.5,392.5 849.4,408.7 841.3,420.8 833.2,426.9 825.1,432.9 813.0,437.0 800.9,445.1 786.7,457.2 731.0,470.0" fill="#7fc1f5" fill-opacity="0.50"/>
<polyline points="731.1,338.9 736.2,352.0 742.2,360.1 748.3,371.3 754.4,382.4 760.4,396.5 766.5,408.7 770.5,412.7 776.6,422.8 784.7,424.8 790.8,425.8 798.9,424.8 804.9,416.7 813.0,410.7 821.1,402.6 827.2,386.4 833.2,382.4 839.3,368.2 845.4,356.1 851.4,344.0 859.5,331.8 865.6,317.7 871.6,303.5 877.7,291.4 887.8,275.2 895.9,269.2 904.0,257.0 912.1,244.0 918.1,229.8 924.2,225.8 930.3,211.6 936.3,205.6 946.4,204.6 952.5,193.4 958.6,183.3 964.6,179.3 970.7,167.2 974.8,164.1 979.8,166.1 986.1,157.0 992.1,158.1 1000.2,146.9 1010.3,137.8 1020.4,129.8 1032.6,122.7 1038.6,114.6 1048.7,110.5 1056.8,107.5 1069.0,101.4 1079.1,96.4 1089.2,98.4 1099.3,93.4 1109.4,88.3 1121.5,90.3 1129.6,85.3 1141.7,81.2 1147.8,83.3 1157.9,80.2 1170.1,79.2 1174.1,85.3 1184.2,79.2 1192.3,80.2 1202.4,78.2 1212.5,76.2 1222.6,74.2 1231.7,71.1 1235.8,70.1" fill="none" stroke="#2a8ab8" stroke-width="2.7" stroke-linejoin="round" stroke-linecap="round"/>
<polygon points="731.1,259.2 736.2,254.1 742.2,244.0 752.3,250.1 756.4,256.9 760.4,275.2 766.5,295.4 772.6,313.6 778.6,329.8 784.7,341.9 790.8,350.0 798.9,355.1 804.9,366.2 815.0,382.4 825.1,392.5 835.2,392.5 845.4,384.4 861.5,368.2 877.7,350.0 887.0,336.9 896.3,321.3 905.8,301.1 918.1,266.9 930.3,254.1 938.4,242.0 946.4,225.8 956.6,211.6 968.7,201.5 979.8,193.4 990.1,181.3 1000.2,165.1 1010.3,151.0 1020.4,140.9 1032.6,134.8 1040.7,122.7 1050.8,116.6 1060.9,110.5 1071.0,100.4 1081.1,96.4 1091.2,90.3 1097.3,82.2 1103.3,77.2 1117.5,77.2 1125.6,80.2 1137.7,74.2 1147.8,70.1 1151.9,68.1 1162.0,70.1 1182.2,69.1 1202.4,67.1 1235.8,65.1 1235.8,86.3 1228.7,90.3 1218.6,94.4 1214.5,102.5 1204.4,108.5 1198.4,118.6 1190.3,120.7 1186.2,132.8 1178.1,138.9 1170.1,153.0 1162.0,161.1 1151.9,170.2 1147.8,179.3 1139.7,189.4 1135.7,199.5 1129.6,208.6 1125.6,213.7 1119.5,227.8 1113.4,231.9 1101.3,238.9 1097.3,246.0 1091.2,255.0 1083.1,265.1 1077.0,269.2 1071.0,278.3 1066.9,280.3 1060.9,291.4 1050.8,307.6 1042.7,315.7 1036.6,325.8 1028.5,329.8 1020.4,339.9 1010.3,357.1 1004.3,358.1 998.2,362.2 992.1,376.3 988.1,374.3 979.8,381.4 972.7,381.4 962.6,390.5 954.5,398.6 946.4,396.5 940.4,404.6 930.3,406.6 922.2,418.8 912.1,424.8 902.0,426.9 891.9,434.9 881.7,436.0 871.6,439.0 857.5,434.9 849.4,430.9 837.3,429.9 829.2,432.9 823.1,439.0 813.0,443.0 800.9,445.1 788.7,439.0 780.7,432.9 774.6,426.9 766.5,418.8 758.4,406.6 750.3,399.6 740.2,398.6 731.1,392.5" fill="#a9a9a9" fill-opacity="0.50"/>
<polyline points="731.1,321.7 736.2,324.8 742.2,320.7 748.3,322.7 754.4,325.8 759.4,335.9 764.5,350.0 770.5,362.2 776.6,376.3 786.7,393.5 798.9,403.6 811.0,409.7 821.1,411.7 827.2,408.7 835.2,410.7 843.3,409.7 851.4,406.6 857.5,405.6 865.6,399.6 873.7,396.5 879.7,388.4 887.8,381.4 897.9,370.2 908.0,357.1 918.1,345.0 924.2,340.9 930.3,329.8 938.4,321.7 946.4,311.6 952.5,309.6 962.6,298.5 970.7,289.4 979.8,281.3 986.1,274.2 992.1,271.2 1000.2,260.1 1010.3,252.1 1020.4,239.9 1028.5,235.9 1038.6,227.8 1046.7,215.7 1054.8,209.6 1064.9,193.4 1077.0,181.3 1087.2,174.2 1095.2,170.2 1101.3,159.1 1109.4,155.0 1121.5,152.0 1129.6,142.9 1135.7,138.9 1141.7,130.8 1147.8,126.7 1151.9,118.6 1157.9,119.6 1164.0,114.6 1170.1,114.6 1180.2,108.5 1190.3,100.4 1200.4,97.4 1208.5,87.3 1214.5,89.3 1220.6,79.2 1226.7,74.2 1231.7,69.1 1235.8,69.1" fill="none" stroke="#000000" stroke-width="3.3" stroke-linejoin="round" stroke-linecap="round"/>
</g>
<g clip-path="url(#clip-c)">
<polygon points="201.1,459.1 203.1,462.5 205.1,466.0 207.1,469.5 209.2,472.9 211.2,476.4 213.3,479.8 215.4,483.2 217.5,486.6 219.7,489.9 221.8,493.3 224.0,496.6 226.1,500.1 228.1,503.6 230.0,507.1 231.9,510.7 233.8,514.4 235.5,518.1 237.3,521.7 239.0,525.4 240.7,529.0 242.3,532.7 243.9,536.3 245.4,540.0 247.0,543.6 248.5,547.3 249.9,551.0 251.4,554.6 252.8,558.3 254.2,562.0 255.6,565.7 257.0,569.4 258.4,573.1 259.7,576.8 261.0,580.5 262.4,584.3 263.7,588.0 265.1,591.7 266.4,595.4 267.8,599.1 269.1,602.8 270.5,606.5 271.8,610.2 273.2,613.9 274.5,617.6 275.9,621.3 277.2,625.1 278.6,628.9 279.9,632.7 281.3,636.5 282.6,640.3 284.0,644.1 285.4,647.9 286.8,651.6 288.3,655.2 289.8,658.8 291.3,662.5 292.8,666.1 294.2,669.7 295.7,673.4 297.2,677.0 298.8,680.7 300.4,684.3 302.0,688.0 303.8,691.6 305.6,695.1 307.6,698.7 309.6,702.2 311.8,705.7 314.1,709.1 316.5,712.4 318.9,715.6 321.4,718.7 324.0,721.7 326.7,724.7 329.4,727.6 332.3,730.5 335.2,733.3 338.1,736.0 341.1,738.7 344.1,741.2 347.1,743.8 350.2,746.3 353.2,748.8 356.2,751.4 359.3,753.9 362.3,756.4 365.4,758.9 368.5,761.4 371.6,763.9 374.9,766.3 378.2,768.7 381.6,771.0 385.1,773.3 388.5,775.6 392.0,777.9 395.5,780.0 398.9,782.0 402.5,783.9 406.0,785.6 409.7,787.2 413.6,788.7 417.5,790.2 421.5,791.5 425.5,792.8 429.5,794.1 433.6,795.2 437.5,796.1 441.5,796.9 445.4,797.6 449.2,798.2 452.9,798.8 456.7,799.6 460.4,800.4 464.1,801.4 467.8,802.5 471.6,803.5 475.5,804.5 479.4,805.4 483.3,806.3 487.4,807.1 491.4,807.9 495.4,808.6 499.5,809.3 503.5,809.9 507.6,810.6 511.6,811.2 515.7,811.8 519.7,812.4 523.7,813.0 527.8,813.6 531.8,814.1 535.9,814.7 539.9,815.1 544.0,815.6 548.0,816.0 552.0,816.4 556.1,816.8 560.1,817.2 564.2,817.6 568.2,818.0 572.3,818.3 576.3,818.5 580.4,818.7 584.4,818.8 588.4,818.8 592.5,818.8 596.5,818.8 600.6,818.8 604.6,818.9 608.7,818.9 612.7,819.0 616.7,819.3 620.7,819.5 624.6,819.5 628.4,819.4 632.1,818.9 635.8,818.2 639.4,817.5 643.2,816.9 647.1,816.4 651.1,816.1 655.2,815.9 659.2,815.7 663.2,815.5 667.3,815.3 671.3,815.1 675.4,814.8 679.4,814.5 683.5,814.2 687.5,813.8 691.5,813.5 695.4,813.2 699.3,813.0 703.2,812.9 707.0,812.8 710.8,812.8 710.8,812.8 711.5,860.0 709.5,859.9 705.5,859.8 701.5,859.6 697.5,859.5 693.5,859.4 689.5,859.2 685.5,859.1 681.5,858.9 677.5,858.8 673.5,858.6 669.5,858.5 665.5,858.4 661.5,858.2 657.5,858.1 653.5,857.9 649.5,857.8 645.5,857.6 641.5,857.5 637.5,857.3 633.5,857.2 629.5,857.1 625.5,856.9 621.5,856.8 617.5,856.6 613.5,856.5 609.5,856.3 605.5,856.2 601.5,856.1 597.6,855.9 593.6,855.8 589.6,855.6 585.6,855.5 581.6,855.3 577.6,855.2 573.6,855.1 569.6,854.9 565.6,854.8 561.6,854.6 557.6,854.5 553.6,854.3 549.6,854.2 545.6,854.1 541.6,853.9 537.6,853.8 533.6,853.6 529.6,853.5 525.6,853.3 521.6,853.2 517.6,853.0 513.6,852.9 509.6,852.8 505.6,852.6 501.6,852.5 497.6,852.3 493.6,852.2 489.6,852.0 485.6,851.9 481.6,851.8 477.6,851.6 473.6,851.5 469.6,851.3 465.6,851.2 461.6,851.0 457.6,850.9 453.6,850.8 449.6,850.6 445.7,850.3 441.8,849.7 438.1,848.9 434.5,847.7 431.0,846.3 427.5,844.6 424.1,842.9 420.5,841.4 416.9,840.1 413.1,839.2 409.2,838.4 405.3,837.8 401.2,837.3 397.2,836.7 393.1,836.0 389.1,835.1 385.1,834.2 381.0,833.1 377.1,831.8 373.2,830.4 369.5,828.9 365.8,827.3 362.3,825.6 358.8,823.9 355.3,822.1 351.8,820.3 348.4,818.4 344.9,816.4 341.5,814.2 338.1,811.9 334.8,809.6 331.6,807.1 328.5,804.7 325.4,802.2 322.4,799.6 319.4,797.1 316.4,794.6 313.4,792.0 310.5,789.4 307.7,786.8 304.9,784.1 302.2,781.3 299.5,778.5 296.8,775.6 294.1,772.6 291.4,769.5 288.8,766.4 286.3,763.2 283.9,760.1 281.6,756.9 279.3,753.8 277.1,750.6 275.0,747.4 272.9,744.2 270.9,741.0 268.9,737.7 267.0,734.3 265.2,730.9 263.4,727.4 261.8,723.8 260.2,720.2 258.6,716.5 257.1,712.8 255.7,709.1 254.3,705.4 253.0,701.7 251.7,698.0 250.5,694.3 249.3,690.6 248.3,686.9 247.3,683.1 246.3,679.4 245.4,675.6 244.4,671.8 243.4,668.0 242.3,664.0 241.3,660.1 240.2,656.1 239.3,652.1 238.4,648.1 237.6,644.1 236.8,640.2 236.1,636.3 235.4,632.5 234.8,628.6 234.1,624.6 233.5,620.7 232.8,616.7 232.2,612.7 231.5,608.7 230.9,604.6 230.3,600.6 229.7,596.6 229.0,592.5 228.3,588.5 227.7,584.4 227.0,580.4 226.3,576.3 225.7,572.3 225.0,568.2 224.4,564.2 223.8,560.2 223.1,556.1 222.5,552.1 221.8,548.0 221.1,544.0 220.4,539.9 219.6,535.9 218.9,531.9 218.0,527.8 217.2,523.8 216.4,519.8 215.5,515.8 214.6,511.9 213.7,508.0 212.7,504.2 211.7,500.4 210.7,496.6 209.7,492.8 208.7,489.0 207.7,485.3 206.7,481.5 205.7,477.7 204.8,474.0 203.9,470.3 202.9,466.5 202.0,462.8 201.1,459.1" fill="#c8301e" fill-opacity="0.50"/>
<polyline points="201.1,459.1 202.5,462.7 204.0,466.4 205.5,470.1 206.9,473.8 208.3,477.5 209.7,481.2 211.0,484.9 212.2,488.6 213.5,492.3 214.7,496.1 216.0,499.8 217.2,503.6 218.4,507.3 219.5,511.1 220.7,514.8 221.9,518.6 223.0,522.3 224.1,526.1 225.2,529.8 226.2,533.6 227.2,537.3 228.1,541.0 229.1,544.8 230.0,548.5 230.9,552.2 231.9,556.0 232.8,559.7 233.7,563.4 234.7,567.2 235.6,570.9 236.5,574.6 237.5,578.4 238.4,582.1 239.3,585.8 240.3,589.6 241.2,593.3 242.2,597.0 243.2,600.7 244.3,604.4 245.4,608.1 246.6,611.7 247.8,615.3 249.1,619.0 250.3,622.6 251.6,626.2 253.0,629.8 254.3,633.4 255.7,637.1 257.1,640.7 258.5,644.4 259.9,648.0 261.2,651.6 262.6,655.2 263.9,658.8 265.2,662.4 266.5,666.0 267.8,669.6 269.2,673.2 270.6,676.8 272.2,680.3 273.8,683.9 275.5,687.5 277.3,691.1 279.1,694.7 281.0,698.3 283.0,701.8 285.0,705.4 287.1,708.9 289.3,712.4 291.5,715.8 293.8,719.2 296.0,722.6 298.3,725.8 300.6,729.1 302.8,732.2 305.1,735.4 307.3,738.5 309.6,741.7 311.9,744.8 314.2,747.9 316.5,751.0 319.0,754.1 321.5,757.1 324.2,760.1 327.0,763.0 330.1,765.8 333.3,768.6 336.5,771.3 339.9,774.0 343.3,776.6 346.6,779.2 350.0,781.6 353.4,784.0 356.8,786.2 360.2,788.4 363.7,790.5 367.1,792.6 370.6,794.6 374.1,796.5 377.5,798.4 381.0,800.2 384.5,801.9 387.9,803.5 391.4,805.0 394.9,806.4 398.4,807.9 402.0,809.3 405.7,810.7 409.5,812.0 413.4,813.3 417.4,814.5 421.4,815.7 425.5,816.8 429.5,817.8 433.5,818.8 437.5,819.6 441.5,820.3 445.3,820.9 449.2,821.4 453.1,821.9 457.0,822.3 461.0,822.9 465.0,823.4 469.1,824.0 473.2,824.5 477.2,825.0 481.3,825.5 485.3,825.9 489.4,826.3 493.4,826.6 497.5,826.9 501.5,827.2 505.5,827.4 509.6,827.7 513.6,827.9 517.7,828.1 521.7,828.4 525.8,828.6 529.8,828.9 533.9,829.1 537.9,829.3 541.9,829.4 546.0,829.5 550.0,829.6 554.1,829.7 558.1,829.8 562.2,829.9 566.2,830.0 570.2,830.1 574.3,830.2 578.3,830.4 582.4,830.5 586.4,830.6 590.5,830.7 594.5,830.8 598.6,830.9 602.6,830.9 606.6,831.0 610.7,831.0 614.7,831.0 618.8,831.0 622.8,831.0 626.9,831.0 630.9,831.0 634.9,830.9 638.9,830.9 642.9,830.8 646.9,830.7 650.9,830.6 654.9,830.5 658.9,830.4 662.9,830.3 666.9,830.2 670.9,830.0 674.9,829.9 678.9,829.8 682.8,829.7 686.8,829.6 690.8,829.5 694.8,829.4 698.8,829.3 702.8,829.2 706.8,829.1 710.8,829.0 710.8,829.0" fill="none" stroke="#f5202a" stroke-width="2.7" stroke-linejoin="round" stroke-linecap="round"/>
<polygon points="201.1,459.1 202.2,462.7 203.3,466.4 204.3,470.1 205.4,473.8 206.4,477.6 207.2,481.5 208.0,485.4 208.8,489.4 209.5,493.4 210.1,497.5 210.8,501.5 211.4,505.6 212.0,509.6 212.5,513.7 213.1,517.7 213.6,521.7 214.2,525.8 214.7,529.8 215.3,533.9 215.9,537.9 216.6,542.0 217.2,546.0 217.9,550.0 218.6,554.1 219.3,558.1 220.0,562.2 220.8,566.2 221.5,570.3 222.3,574.3 223.1,578.3 223.8,582.4 224.6,586.3 225.5,590.3 226.3,594.1 227.2,597.9 228.1,601.7 229.1,605.4 230.0,609.2 230.9,613.0 231.7,616.9 232.6,620.9 233.4,624.9 234.3,628.8 235.3,632.8 236.3,636.7 237.4,640.5 238.6,644.3 239.9,648.0 241.1,651.6 242.5,655.2 243.9,658.7 245.5,662.2 247.2,665.6 249.3,668.9 251.5,672.1 253.8,675.4 256.2,678.6 258.8,681.8 261.3,685.0 264.0,688.1 266.7,691.2 269.5,694.2 272.2,697.2 274.9,700.1 277.5,703.1 280.1,706.2 282.5,709.2 284.9,712.3 287.3,715.4 289.6,718.5 291.9,721.6 294.3,724.7 296.7,727.8 299.1,730.9 301.6,734.0 304.0,737.0 306.3,740.1 308.7,743.3 311.0,746.4 313.4,749.5 315.9,752.7 318.4,755.8 321.1,758.9 323.7,762.0 326.4,764.9 329.1,767.8 331.8,770.6 334.5,773.4 337.3,776.1 340.1,779.0 342.9,781.8 345.7,784.8 348.5,787.9 351.3,791.0 354.0,794.3 356.7,797.6 359.4,800.9 362.1,804.1 364.8,807.2 367.5,810.2 370.2,813.0 372.9,815.8 375.7,818.4 378.5,821.0 381.5,823.4 384.7,825.6 388.1,827.7 391.6,829.6 395.4,831.3 399.3,832.8 403.3,834.1 407.3,835.2 411.3,836.0 415.3,836.5 419.3,836.8 423.2,837.0 427.2,837.0 431.1,837.0 435.1,837.0 439.0,837.0 443.0,837.0 446.9,837.0 450.9,837.0 454.9,836.9 458.9,836.7 462.9,836.5 467.0,836.3 471.0,836.1 475.1,835.8 479.2,835.6 483.2,835.3 487.3,835.1 491.3,834.9 495.4,834.6 499.5,834.4 503.5,834.1 507.6,833.9 511.6,833.6 515.7,833.3 519.7,833.1 523.7,832.8 527.8,832.5 531.8,832.3 535.9,832.0 539.9,831.8 544.0,831.6 548.0,831.4 552.0,831.2 556.1,831.0 560.1,830.8 564.2,830.6 568.2,830.4 572.3,830.2 576.3,830.0 580.4,829.9 584.4,829.8 588.4,829.7 592.5,829.6 596.5,829.5 600.6,829.4 604.6,829.3 608.7,829.1 612.7,829.0 616.7,828.9 620.8,828.7 624.8,828.5 628.9,828.3 632.9,828.1 637.0,827.9 641.0,827.7 645.1,827.5 649.1,827.3 653.1,827.1 657.2,826.9 661.2,826.6 665.3,826.4 669.3,826.1 673.4,825.8 677.4,825.5 681.4,825.2 685.5,824.9 689.5,824.6 693.5,824.3 697.4,824.1 701.3,823.9 705.1,823.7 708.9,823.6 710.8,823.5 711.5,838.0 709.5,838.0 705.5,838.1 701.5,838.1 697.6,838.2 693.6,838.2 689.6,838.3 685.6,838.3 681.6,838.4 677.7,838.5 673.7,838.5 669.7,838.6 665.7,838.6 661.7,838.7 657.7,838.7 653.8,838.8 649.8,838.8 645.8,838.9 641.8,838.9 637.8,839.0 633.8,839.0 629.9,839.1 625.9,839.2 621.9,839.2 617.9,839.3 613.9,839.3 610.0,839.4 606.0,839.4 602.0,839.5 598.0,839.6 594.0,839.7 590.0,839.8 586.0,839.9 582.0,840.0 578.0,840.0 574.0,840.2 570.0,840.3 566.0,840.4 562.0,840.5 558.0,840.6 554.0,840.7 550.0,840.9 546.0,841.0 542.0,841.2 538.0,841.3 534.0,841.5 530.0,841.6 526.0,841.8 522.0,842.1 518.0,842.3 514.0,842.7 510.0,843.0 506.0,843.4 502.0,843.8 498.0,844.2 494.0,844.6 490.0,845.0 486.0,845.4 482.0,845.8 478.0,846.2 474.0,846.6 470.0,847.0 466.0,847.4 462.0,847.8 458.0,848.2 454.0,848.6 450.0,849.0 446.0,849.3 442.0,849.6 438.0,849.8 434.0,849.9 430.0,850.0 426.0,850.0 422.1,850.0 418.1,850.0 414.1,850.0 410.1,850.0 406.1,850.1 402.1,850.1 398.1,850.1 394.2,850.1 390.2,850.1 386.2,850.1 382.2,850.1 378.2,850.1 374.2,850.1 370.2,850.1 366.3,850.1 362.3,850.1 358.3,850.1 354.3,850.1 350.3,850.1 346.3,850.1 342.3,850.2 338.4,850.1 334.4,850.0 330.6,849.5 327.0,848.7 323.5,847.2 320.3,845.3 317.2,842.9 314.2,840.3 311.2,837.7 308.2,835.1 305.2,832.5 302.2,830.0 299.1,827.4 296.1,824.9 293.1,822.4 290.0,819.9 287.0,817.3 284.0,814.8 280.9,812.3 277.9,809.7 274.9,807.2 271.8,804.7 268.6,802.2 265.4,799.8 262.2,797.4 258.9,794.9 255.8,792.3 252.7,789.5 249.8,786.6 247.1,783.6 244.6,780.4 242.3,777.0 240.3,773.6 238.4,770.1 236.8,766.5 235.3,762.8 233.9,759.1 232.7,755.4 231.6,751.7 230.6,748.0 229.7,744.3 228.8,740.5 228.0,736.6 227.2,732.8 226.5,728.8 225.8,724.8 225.2,720.8 224.6,716.7 224.0,712.7 223.5,708.7 223.0,704.6 222.5,700.6 222.1,696.5 221.7,692.5 221.3,688.4 220.9,684.4 220.5,680.3 220.0,676.3 219.6,672.2 219.2,668.2 218.8,664.1 218.3,660.1 217.9,656.1 217.4,652.1 217.0,648.2 216.5,644.4 216.0,640.5 215.6,636.7 215.1,632.8 214.7,628.8 214.4,624.8 214.0,620.8 213.7,616.8 213.4,612.7 213.0,608.7 212.7,604.6 212.4,600.6 212.0,596.6 211.7,592.5 211.3,588.5 211.0,584.4 210.7,580.4 210.3,576.3 210.0,572.3 209.7,568.2 209.4,564.2 209.1,560.2 208.8,556.1 208.5,552.1 208.2,548.0 207.9,544.0 207.6,539.9 207.3,535.9 207.0,531.9 206.7,527.8 206.4,523.8 206.1,519.7 205.8,515.7 205.5,511.6 205.2,507.6 204.9,503.5 204.5,499.5 204.2,495.5 203.9,491.4 203.6,487.4 203.2,483.3 202.8,479.3 202.5,475.2 202.1,471.2 201.8,467.2 201.4,463.1 201.1,459.1" fill="#7fc1f5" fill-opacity="0.50"/>
<polyline points="201.1,459.1 201.7,463.1 202.4,467.2 203.1,471.2 203.7,475.2 204.4,479.3 205.0,483.3 205.6,487.4 206.2,491.4 206.7,495.5 207.3,499.5 207.8,503.5 208.3,507.6 208.8,511.6 209.3,515.7 209.7,519.7 210.2,523.8 210.6,527.8 211.0,531.9 211.4,535.9 211.8,539.9 212.2,544.0 212.6,548.0 213.0,552.1 213.4,556.1 213.8,560.2 214.2,564.2 214.6,568.2 215.0,572.3 215.4,576.3 215.8,580.4 216.2,584.4 216.6,588.5 217.0,592.5 217.5,596.6 217.9,600.6 218.3,604.6 218.7,608.7 219.2,612.7 219.7,616.8 220.1,620.8 220.6,624.8 221.0,628.8 221.5,632.7 221.9,636.6 222.3,640.4 222.7,644.3 223.2,648.2 223.7,652.1 224.2,656.1 224.9,660.1 225.6,664.2 226.3,668.2 227.2,672.2 228.1,676.2 229.1,680.1 230.1,684.0 231.3,687.7 232.4,691.4 233.7,695.1 235.0,698.7 236.5,702.4 238.0,706.0 239.5,709.6 241.2,713.2 243.0,716.7 245.0,720.1 247.0,723.4 249.2,726.5 251.5,729.6 254.0,732.6 256.5,735.5 259.1,738.3 261.7,741.0 264.4,743.7 267.1,746.4 269.8,749.1 272.5,751.8 275.2,754.5 277.9,757.2 280.6,759.9 283.3,762.6 286.0,765.3 288.7,768.0 291.4,770.7 294.1,773.3 296.8,776.0 299.6,778.7 302.4,781.3 305.3,783.9 308.3,786.5 311.3,789.0 314.3,791.6 317.3,794.1 320.4,796.6 323.5,799.1 326.7,801.5 330.0,803.9 333.4,806.3 336.8,808.6 340.3,810.9 343.7,813.1 347.2,815.3 350.7,817.4 354.1,819.3 357.6,821.2 361.1,822.9 364.6,824.5 368.1,826.0 371.7,827.5 375.4,828.9 379.2,830.2 383.1,831.5 387.1,832.7 391.1,833.8 395.2,834.8 399.2,835.7 403.2,836.4 407.3,837.1 411.3,837.6 415.4,838.0 419.4,838.4 423.4,838.7 427.4,838.8 431.4,839.0 435.3,839.0 439.2,839.1 443.1,839.1 447.0,839.1 451.0,839.1 454.9,839.1 459.0,839.1 463.0,839.1 467.1,839.0 471.1,838.9 475.2,838.8 479.2,838.5 483.3,838.2 487.3,837.8 491.4,837.4 495.4,837.0 499.5,836.6 503.5,836.2 507.6,835.9 511.6,835.5 515.7,835.2 519.7,834.9 523.7,834.6 527.8,834.4 531.8,834.3 535.9,834.1 539.9,834.0 544.0,833.9 548.0,833.8 552.0,833.7 556.1,833.6 560.1,833.5 564.2,833.4 568.2,833.2 572.3,833.1 576.3,833.0 580.4,832.9 584.4,832.8 588.4,832.6 592.5,832.5 596.5,832.4 600.6,832.3 604.6,832.2 608.7,832.1 612.7,832.1 616.7,832.0 620.8,831.9 624.8,831.8 628.9,831.7 632.9,831.6 637.0,831.6 641.0,831.4 645.1,831.3 649.1,831.2 653.1,831.1 657.2,831.0 661.2,830.9 665.3,830.7 669.3,830.6 673.3,830.5 677.3,830.4 681.3,830.3 685.2,830.2 689.2,830.1 693.1,830.0 697.0,829.9 701.0,829.8 704.9,829.7 708.8,829.6 710.8,829.6" fill="none" stroke="#2a8ab8" stroke-width="2.7" stroke-linejoin="round" stroke-linecap="round"/>
<polygon points="201.1,459.1 203.2,462.4 205.3,465.7 207.5,469.1 209.6,472.4 211.8,475.7 213.9,479.1 216.0,482.4 218.1,485.8 220.2,489.2 222.3,492.7 224.3,496.2 226.3,499.8 228.4,503.3 230.4,506.8 232.4,510.3 234.5,513.8 236.6,517.3 238.7,520.8 240.9,524.2 243.1,527.7 245.2,531.1 247.4,534.5 249.5,538.0 251.6,541.4 253.6,544.9 255.7,548.3 257.7,551.8 259.7,555.2 261.8,558.7 263.9,562.1 266.0,565.4 268.2,568.8 270.4,572.1 272.6,575.4 274.9,578.7 277.2,582.0 279.6,585.2 282.0,588.5 284.4,591.7 286.8,594.9 289.2,598.2 291.6,601.4 294.0,604.7 296.4,608.0 298.7,611.3 300.9,614.8 303.1,618.3 305.2,621.8 307.2,625.4 309.1,629.0 311.1,632.6 313.0,636.1 314.8,639.5 316.7,643.0 318.7,646.5 320.7,650.0 322.8,653.4 325.0,656.9 327.1,660.5 329.3,664.0 331.4,667.6 333.5,671.2 335.5,674.8 337.5,678.3 339.6,681.8 341.6,685.1 343.6,688.4 345.6,691.7 347.6,694.9 349.7,698.1 351.7,701.4 353.7,704.6 355.7,707.8 357.8,711.1 359.8,714.3 361.8,717.6 363.8,720.8 365.8,724.0 367.9,727.3 369.9,730.5 371.9,733.7 373.9,737.0 376.0,740.2 378.0,743.4 380.0,746.7 382.0,749.9 384.1,753.1 386.1,756.4 388.2,759.7 390.4,763.1 392.7,766.4 395.0,769.8 397.3,773.0 399.8,776.2 402.3,779.4 404.8,782.4 407.3,785.5 409.8,788.5 412.3,791.6 414.9,794.6 417.4,797.6 419.9,800.6 422.5,803.7 425.1,806.7 427.8,809.6 430.6,812.6 433.4,815.5 436.4,818.3 439.6,821.0 442.8,823.5 446.2,825.7 449.7,827.6 453.4,829.2 457.2,830.6 461.1,831.8 465.1,832.8 469.1,833.8 473.2,834.7 477.2,835.4 481.3,835.9 485.3,836.3 489.4,836.6 493.4,836.8 497.5,836.9 501.5,837.0 505.5,837.0 509.6,837.0 513.6,837.0 517.7,837.0 521.7,837.0 525.8,837.0 529.8,837.0 533.9,837.0 537.9,836.9 541.9,836.9 546.0,836.8 550.0,836.7 554.1,836.6 558.1,836.5 562.2,836.4 566.2,836.3 570.2,836.2 574.3,836.1 578.3,836.1 582.4,836.0 586.4,835.9 590.5,835.8 594.5,835.7 598.6,835.6 602.6,835.5 606.6,835.4 610.7,835.2 614.7,835.1 618.8,835.0 622.8,834.9 626.9,834.8 630.9,834.7 634.9,834.6 639.0,834.5 643.0,834.4 647.1,834.3 651.1,834.1 655.1,834.0 659.1,833.8 663.1,833.6 667.1,833.4 671.1,833.2 675.0,833.0 679.0,832.8 683.0,832.5 686.9,832.3 690.9,832.1 694.9,831.9 698.9,831.7 702.8,831.4 706.8,831.2 710.8,831.0 710.8,831.0 711.5,837.0 709.5,837.0 705.5,837.1 701.5,837.2 697.5,837.2 693.5,837.3 689.5,837.4 685.6,837.4 681.6,837.5 677.6,837.6 673.6,837.7 669.6,837.7 665.6,837.8 661.6,837.9 657.6,837.9 653.6,838.0 649.6,838.1 645.6,838.1 641.7,838.2 637.7,838.3 633.7,838.3 629.7,838.4 625.7,838.5 621.7,838.6 617.7,838.6 613.7,838.7 609.7,838.8 605.7,838.8 601.7,838.9 597.7,839.0 593.8,839.0 589.8,839.1 585.8,839.2 581.8,839.2 577.8,839.3 573.8,839.4 569.8,839.4 565.8,839.5 561.8,839.6 557.8,839.7 553.8,839.7 549.8,839.8 545.9,839.9 541.9,839.9 537.9,840.0 533.9,840.1 529.9,840.1 525.9,840.2 521.9,840.3 517.9,840.3 513.9,840.4 509.9,840.5 505.9,840.6 502.0,840.6 498.0,840.7 494.0,840.8 490.0,840.8 486.0,840.9 482.1,840.9 478.1,840.8 474.2,840.7 470.3,840.6 466.4,840.5 462.6,840.4 458.7,840.2 454.8,840.1 450.9,839.9 447.0,839.8 443.1,839.6 439.2,839.5 435.3,839.3 431.4,839.1 427.4,838.8 423.4,838.4 419.4,837.9 415.4,837.4 411.4,836.7 407.5,835.9 403.7,834.9 400.0,833.8 396.4,832.5 392.9,830.9 389.5,829.1 386.3,827.0 383.1,824.7 380.1,822.3 377.2,819.7 374.4,817.1 371.6,814.4 369.0,811.7 366.4,808.8 363.9,805.9 361.6,802.9 359.3,799.8 357.1,796.7 354.9,793.5 352.8,790.3 350.7,787.1 348.7,783.8 346.6,780.5 344.6,777.1 342.6,773.6 340.6,770.1 338.6,766.5 336.5,762.9 334.5,759.4 332.5,755.9 330.5,752.5 328.4,749.1 326.4,745.7 324.5,742.3 322.5,738.9 320.6,735.5 318.7,732.1 316.8,728.7 314.9,725.3 313.0,721.9 311.2,718.5 309.3,715.0 307.4,711.6 305.6,708.2 303.7,704.8 301.8,701.3 300.0,697.9 298.1,694.4 296.2,691.0 294.3,687.5 292.5,684.0 290.6,680.5 288.6,677.0 286.5,673.7 284.2,670.4 281.7,667.4 278.9,664.5 275.9,661.7 272.8,659.1 269.8,656.4 266.9,653.6 264.2,650.6 261.9,647.3 259.9,643.8 258.2,640.2 256.7,636.4 255.2,632.5 253.8,628.7 252.4,624.8 251.1,621.0 249.8,617.3 248.5,613.5 247.3,609.8 246.0,606.0 244.8,602.3 243.6,598.6 242.4,594.8 241.2,591.1 240.1,587.3 238.9,583.6 237.8,579.8 236.7,576.1 235.6,572.3 234.6,568.6 233.6,564.8 232.6,561.1 231.7,557.4 230.7,553.6 229.8,549.9 228.8,546.1 227.7,542.4 226.7,538.6 225.6,534.8 224.5,531.0 223.4,527.3 222.3,523.5 221.2,519.7 220.1,516.0 219.0,512.2 217.8,508.5 216.7,504.7 215.5,500.9 214.3,497.2 213.1,493.4 211.8,489.6 210.5,485.8 209.1,482.0 207.8,478.2 206.5,474.3 205.1,470.5 203.8,466.7 202.4,462.9 201.1,459.1" fill="#a9a9a9" fill-opacity="0.50"/>
<polyline points="201.1,459.1 202.4,462.7 203.8,466.3 205.1,469.9 206.5,473.5 207.8,477.2 209.2,480.8 210.5,484.5 211.8,488.2 213.2,491.9 214.5,495.6 215.9,499.3 217.2,503.0 218.6,506.7 219.9,510.5 221.3,514.2 222.7,517.9 224.1,521.5 225.5,525.2 227.0,528.9 228.5,532.6 230.0,536.2 231.6,539.9 233.3,543.5 235.0,547.1 236.8,550.7 238.7,554.3 240.6,558.0 242.6,561.6 244.5,565.2 246.6,568.8 248.6,572.3 250.6,575.7 252.6,579.1 254.6,582.4 256.7,585.6 258.7,588.9 260.7,592.1 262.7,595.3 264.8,598.6 266.8,601.8 268.9,605.0 271.0,608.2 273.2,611.4 275.4,614.5 277.6,617.7 279.8,620.9 281.9,624.1 283.9,627.3 286.0,630.5 288.0,633.8 290.0,637.0 292.0,640.2 294.0,643.5 296.0,646.8 297.9,650.1 299.8,653.5 301.6,656.9 303.5,660.3 305.3,663.6 307.3,667.0 309.3,670.2 311.3,673.6 313.3,676.9 315.3,680.4 317.3,683.9 319.3,687.5 321.4,691.1 323.4,694.7 325.4,698.3 327.4,702.0 329.5,705.6 331.5,709.3 333.5,712.9 335.5,716.5 337.5,720.2 339.6,723.8 341.6,727.5 343.6,731.1 345.6,734.7 347.6,738.4 349.7,742.0 351.7,745.5 353.8,749.0 356.0,752.4 358.1,755.7 360.4,759.0 362.6,762.2 364.9,765.5 367.2,768.8 369.5,772.1 371.9,775.4 374.3,778.7 376.8,781.8 379.3,784.9 382.0,787.9 384.7,790.9 387.4,793.8 390.3,796.6 393.1,799.4 396.1,802.1 399.0,804.7 402.1,807.3 405.2,809.8 408.4,812.1 411.7,814.4 415.1,816.6 418.6,818.7 422.1,820.6 425.8,822.4 429.7,824.1 433.6,825.6 437.6,826.9 441.5,828.0 445.3,829.0 449.1,830.0 452.8,831.0 456.4,832.0 460.0,833.0 463.7,834.1 467.4,835.1 471.3,836.0 475.3,836.7 479.3,837.2 483.3,837.6 487.3,837.8 491.4,838.0 495.4,838.1 499.5,838.2 503.5,838.3 507.6,838.3 511.6,838.4 515.7,838.4 519.7,838.4 523.7,838.4 527.8,838.3 531.8,838.3 535.9,838.3 539.9,838.2 544.0,838.2 548.0,838.1 552.0,838.1 556.1,838.0 560.1,837.9 564.2,837.8 568.2,837.7 572.3,837.6 576.3,837.5 580.4,837.4 584.4,837.3 588.4,837.2 592.5,837.1 596.5,837.0 600.6,836.9 604.6,836.8 608.7,836.7 612.7,836.6 616.7,836.5 620.8,836.4 624.8,836.3 628.9,836.2 632.9,836.1 637.0,836.0 641.0,835.8 645.1,835.6 649.1,835.4 653.1,835.2 657.2,835.0 661.2,834.8 665.3,834.6 669.3,834.4 673.3,834.2 677.3,834.1 681.3,833.9 685.2,833.8 689.2,833.7 693.1,833.5 697.0,833.4 701.0,833.3 704.9,833.2 708.8,833.1 710.8,833.0" fill="none" stroke="#000000" stroke-width="3.3" stroke-linejoin="round" stroke-linecap="round"/>
</g>
<g clip-path="url(#clip-d)">
<polygon points="731.1,726.9 738.2,714.7 746.3,698.5 752.3,682.4 758.4,677.9 768.5,680.3 780.7,674.3 790.8,666.2 800.9,659.1 809.0,648.0 821.1,635.0 833.2,618.8 845.4,604.6 857.5,592.5 867.6,580.4 877.7,573.3 881.7,584.4 885.8,594.5 893.9,584.4 902.0,578.4 912.1,566.2 922.2,552.1 932.3,542.0 942.4,531.9 952.5,523.8 962.6,517.7 972.7,511.6 979.8,507.6 992.1,501.5 1004.3,496.5 1016.4,491.4 1028.5,489.4 1040.7,481.3 1052.8,479.3 1064.9,478.3 1077.0,476.3 1089.2,473.2 1101.3,471.2 1117.5,469.2 1133.7,466.1 1149.8,463.1 1166.0,462.1 1182.2,461.1 1202.4,459.1 1235.8,457.0 1235.8,465.1 1210.5,470.2 1198.4,473.2 1186.2,477.3 1174.1,481.3 1162.0,485.3 1149.8,491.4 1137.7,497.5 1125.6,503.5 1113.4,511.6 1101.3,517.7 1089.2,525.8 1077.0,533.9 1064.9,542.0 1052.8,552.1 1040.7,562.2 1028.5,574.3 1020.4,582.4 1012.3,592.5 1004.3,600.6 996.2,610.7 988.1,618.8 980.0,630.9 972.7,648.0 962.6,660.1 952.5,674.3 938.4,692.5 922.2,712.7 906.0,732.9 891.9,751.1 877.7,769.3 871.7,781.2 866.8,787.5 860.5,794.9 854.3,804.9 849.4,812.3 844.4,821.0 839.4,829.8 834.4,839.7 834.0,843.0 740.0,843.0 735.0,838.5 731.0,836.0" fill="#c8301e" fill-opacity="0.50"/>
<polyline points="731.1,771.3 740.2,775.4 750.3,779.4 760.4,782.5 770.5,788.5 780.7,787.5 790.8,781.4 800.9,771.3 811.0,759.2 821.1,747.1 831.2,732.9 841.3,720.8 851.4,706.6 861.5,692.5 871.6,678.3 877.7,670.2 883.8,679.3 891.9,670.2 902.0,656.1 908.0,648.0 916.1,635.0 926.2,620.8 936.3,608.7 946.4,598.6 956.6,590.5 966.7,580.4 979.8,568.2 990.1,558.1 1000.2,550.0 1010.3,542.0 1020.4,533.9 1032.6,526.8 1044.7,519.7 1056.8,513.7 1069.0,507.6 1081.1,501.5 1093.2,495.5 1105.4,491.4 1117.5,486.4 1129.6,481.3 1141.7,477.3 1153.9,474.2 1166.0,471.2 1178.1,468.2 1190.3,465.1 1202.4,463.1 1214.5,461.1 1226.7,460.1 1235.8,459.1" fill="none" stroke="#f5202a" stroke-width="2.7" stroke-linejoin="round" stroke-linecap="round"/>
<polygon points="731.1,594.6 739.2,648.0 743.3,678.3 747.3,704.6 752.3,728.9 760.4,761.2 770.5,787.5 780.7,769.3 788.7,739.0 796.8,708.7 804.9,678.3 811.0,658.1 815.0,648.0 821.1,639.0 825.1,626.9 833.2,598.6 841.3,578.4 849.4,560.2 857.5,542.0 865.6,529.8 873.7,521.7 879.7,519.7 883.8,525.8 889.8,509.6 895.9,501.5 904.0,496.5 910.1,491.4 918.1,485.3 926.2,481.3 934.3,475.2 942.4,469.2 952.5,463.1 962.6,459.1 979.8,456.0 1235.8,456.0 1235.8,476.3 1226.7,476.3 1218.6,481.3 1214.5,475.2 1208.5,479.3 1198.4,485.3 1190.3,483.3 1180.2,491.4 1174.1,495.5 1166.0,504.6 1157.9,503.5 1151.9,511.6 1141.7,521.7 1135.7,523.8 1129.6,529.8 1121.5,537.9 1113.4,548.0 1107.4,558.1 1101.3,558.1 1097.3,562.2 1087.2,574.3 1079.1,586.4 1071.0,594.5 1062.9,606.7 1054.8,612.7 1046.7,626.9 1038.6,635.0 1032.6,648.0 1026.5,654.1 1020.4,656.1 1012.3,666.2 1004.3,678.3 994.2,688.4 986.1,698.5 979.8,696.5 972.7,702.6 962.6,708.7 952.5,718.8 938.4,724.8 926.2,737.0 918.1,739.0 908.0,747.1 897.9,753.1 887.8,763.2 877.7,769.3 866.8,786.2 856.8,792.4 850.6,799.9 844.4,808.6 839.4,816.1 834.4,823.5 828.2,829.8 823.2,839.7 780.0,841.0 775.0,839.0 769.8,834.7 765.0,839.0 760.0,841.0 742.4,839.7 731.0,817.0" fill="#7fc1f5" fill-opacity="0.50"/>
<polyline points="731.1,705.6 734.2,724.8 738.2,741.0 742.2,755.2 746.3,769.3 750.3,781.4 754.4,791.6 758.4,799.6 764.5,806.7 770.5,809.7 776.6,810.8 782.7,809.7 788.7,801.7 796.8,789.5 804.9,775.4 813.0,759.2 821.1,741.0 829.2,720.8 837.3,704.6 845.4,688.4 853.4,672.3 861.5,662.2 871.6,654.1 877.7,648.0 883.8,641.0 893.9,630.9 904.0,622.8 914.1,614.7 924.2,609.7 934.3,603.6 942.4,597.6 952.5,594.5 962.6,587.5 972.7,582.4 979.8,577.3 988.1,575.3 996.2,569.3 1004.3,568.2 1012.3,560.2 1020.4,555.1 1026.5,557.1 1034.6,548.0 1042.7,542.0 1050.8,540.9 1058.9,532.9 1066.9,532.9 1073.0,525.8 1083.1,520.7 1093.2,512.6 1105.4,508.6 1117.5,502.5 1125.6,496.5 1137.7,491.4 1145.8,488.4 1162.0,481.3 1182.2,475.2 1202.4,471.2 1235.8,468.2" fill="none" stroke="#2a8ab8" stroke-width="2.7" stroke-linejoin="round" stroke-linecap="round"/>
<polygon points="731.1,698.5 740.2,714.7 750.3,722.8 760.4,708.7 772.6,694.5 786.7,680.3 800.9,664.2 809.0,650.0 815.0,635.0 821.1,620.8 827.2,602.6 833.2,594.5 839.3,574.3 845.4,564.2 853.4,544.0 859.5,533.9 867.6,523.8 875.7,516.7 881.7,521.7 885.8,513.7 895.9,501.5 910.1,489.4 914.1,481.3 918.1,477.3 924.2,479.3 932.3,471.2 938.4,471.2 946.4,464.1 952.5,463.1 962.6,459.1 979.8,456.0 1235.8,456.0 1235.8,473.2 1226.7,473.2 1218.6,478.3 1208.5,478.3 1198.4,485.3 1190.3,483.3 1182.2,491.4 1174.1,497.5 1166.0,505.6 1157.9,501.5 1149.8,513.7 1139.7,522.8 1133.7,520.7 1121.5,527.8 1111.4,535.9 1105.4,534.9 1099.3,546.0 1089.2,542.0 1081.1,554.1 1073.0,566.2 1064.9,572.3 1056.8,578.4 1048.7,585.4 1042.7,582.4 1030.5,594.5 1020.4,592.5 1010.3,606.7 1002.2,606.7 996.2,612.7 988.1,620.8 979.8,630.9 968.7,637.0 958.6,641.0 952.5,635.0 946.4,643.1 942.4,648.0 938.4,652.0 930.3,664.2 922.2,660.1 914.1,668.2 906.0,664.2 897.9,676.3 887.8,676.3 875.7,684.4 865.6,700.6 857.5,716.7 849.4,728.9 841.3,753.1 833.2,777.4 832.0,780.0 828.2,792.4 822.0,804.9 814.5,817.3 809.6,839.7 780.0,841.0 775.0,839.0 769.8,834.7 765.0,839.0 760.0,841.0 742.4,839.7 731.0,817.0" fill="#a9a9a9" fill-opacity="0.50"/>
<polyline points="731.1,734.9 734.2,751.1 738.2,765.3 742.2,775.4 748.3,784.5 754.4,790.5 760.4,793.2 768.5,792.0 776.6,789.5 782.7,783.5 788.7,780.4 794.8,769.3 802.9,755.2 809.0,741.0 815.0,722.8 821.1,712.7 827.2,694.5 833.2,680.3 839.3,664.2 847.4,648.0 853.4,637.0 861.5,620.8 869.6,608.7 877.7,597.6 883.8,604.6 891.9,596.6 899.9,590.5 906.0,580.4 914.1,575.3 922.2,569.3 930.3,570.3 938.4,560.2 946.4,556.1 952.5,549.0 960.6,549.0 968.7,545.0 979.8,540.9 988.1,536.9 998.2,533.9 1010.3,529.8 1020.4,523.8 1030.5,522.8 1042.7,517.7 1048.7,519.7 1056.8,515.7 1064.9,510.6 1073.0,509.6 1083.1,504.6 1089.2,496.5 1097.3,499.5 1105.4,496.5 1111.4,498.5 1119.5,493.4 1129.6,492.4 1137.7,489.4 1145.8,488.4 1153.9,483.3 1162.0,480.3 1170.1,479.3 1174.1,481.3 1180.2,474.2 1190.3,472.2 1198.4,472.2 1206.4,470.2 1212.5,468.2 1218.6,471.2 1226.7,467.2 1235.8,467.2" fill="none" stroke="#000000" stroke-width="3.3" stroke-linejoin="round" stroke-linecap="round"/>
</g>
</g>
<g filter="url(#bl2)">
<path d="M200.5 63.7V448.8" fill="none" stroke="#808080" stroke-width="2.4"/>
<path d="M711.5 63.7V448.8" fill="none" stroke="#888888" stroke-width="2.5"/>
<path d="M199.6 64.5H712.4" fill="none" stroke="#383838" stroke-width="1.7"/>
<path d="M199.6 448.0H712.4" fill="none" stroke="#7c7c7c" stroke-width="2.4"/>
<path d="M314.1 448.0v-5.5M314.1 64.5v5.5M427.6 448.0v-5.5M427.6 64.5v5.5M541.2 448.0v-5.5M541.2 64.5v5.5M654.7 448.0v-5.5M654.7 64.5v5.5M200.5 141.2h5.5M711.5 141.2h-5.5M200.5 217.9h5.5M711.5 217.9h-5.5M200.5 294.6h5.5M711.5 294.6h-5.5M200.5 371.3h5.5M711.5 371.3h-5.5" stroke="#2a2a2a" stroke-width="1.7" fill="none"/>
<path d="M725.0 63.7V448.8" fill="none" stroke="#505050" stroke-width="1.9"/>
<path d="M1237.0 63.7V448.8" fill="none" stroke="#505050" stroke-width="1.9"/>
<path d="M724.1 64.5H1237.9" fill="none" stroke="#383838" stroke-width="1.7"/>
<path d="M724.1 448.0H1237.9" fill="none" stroke="#7c7c7c" stroke-width="2.4"/>
<path d="M838.8 448.0v-5.5M838.8 64.5v5.5M952.6 448.0v-5.5M952.6 64.5v5.5M1066.3 448.0v-5.5M1066.3 64.5v5.5M1180.1 448.0v-5.5M1180.1 64.5v5.5M725.0 141.2h5.5M1237.0 141.2h-5.5M725.0 217.9h5.5M1237.0 217.9h-5.5M725.0 294.6h5.5M1237.0 294.6h-5.5M725.0 371.3h5.5M1237.0 371.3h-5.5" stroke="#2a2a2a" stroke-width="1.7" fill="none"/>
<path d="M200.5 457.2V841.8" fill="none" stroke="#808080" stroke-width="2.4"/>
<path d="M711.5 457.2V841.8" fill="none" stroke="#888888" stroke-width="2.5"/>
<path d="M199.6 458.0H712.4" fill="none" stroke="#404040" stroke-width="1.8"/>
<path d="M199.6 841.0H712.4" fill="none" stroke="#484848" stroke-width="1.9"/>
<path d="M314.1 841.0v-5.5M314.1 458.0v5.5M427.6 841.0v-5.5M427.6 458.0v5.5M541.2 841.0v-5.5M541.2 458.0v5.5M654.7 841.0v-5.5M654.7 458.0v5.5M200.5 534.6h5.5M711.5 534.6h-5.5M200.5 611.2h5.5M711.5 611.2h-5.5M200.5 687.8h5.5M711.5 687.8h-5.5M200.5 764.4h5.5M711.5 764.4h-5.5" stroke="#2a2a2a" stroke-width="1.7" fill="none"/>
<path d="M725.0 457.2V841.8" fill="none" stroke="#505050" stroke-width="1.9"/>
<path d="M1237.0 457.2V841.8" fill="none" stroke="#505050" stroke-width="1.9"/>
<path d="M724.1 458.0H1237.9" fill="none" stroke="#404040" stroke-width="1.8"/>
<path d="M724.1 841.0H1237.9" fill="none" stroke="#484848" stroke-width="1.9"/>
<path d="M838.8 841.0v-5.5M838.8 458.0v5.5M952.6 841.0v-5.5M952.6 458.0v5.5M1066.3 841.0v-5.5M1066.3 458.0v5.5M1180.1 841.0v-5.5M1180.1 458.0v5.5" stroke="#2a2a2a" stroke-width="1.7" fill="none"/>
</g>
<g filter="url(#bl3)">
<g style="font-family:'DejaVu Sans','Liberation Sans',sans-serif;font-size:29.5px;letter-spacing:0px;fill:#2e2e2e;stroke:#2e2e2e;stroke-width:0.3px" text-anchor="middle">
<text x="183.0" y="75.9">1</text>
<text x="174.6" y="152.6">0.8</text>
<text x="174.6" y="229.3">0.6</text>
<text x="174.6" y="306.0">0.4</text>
<text x="174.6" y="382.7">0.2</text>
<text x="183.0" y="470.3">1</text>
<text x="174.6" y="546.0">0.8</text>
<text x="174.6" y="622.6">0.6</text>
<text x="174.6" y="699.2">0.4</text>
<text x="174.6" y="775.8">0.2</text>
<text x="183.0" y="852.4">0</text>
<text x="200.7" y="881.0">0</text>
<text x="316.8" y="881.0">200</text>
<text x="429.9" y="881.0">400</text>
<text x="543.8" y="881.0">600</text>
<text x="657.4" y="881.0">800</text>
<text x="726.0" y="881.0">0</text>
<text x="841.1" y="881.0">20</text>
<text x="954.5" y="881.0">40</text>
<text x="1068.2" y="881.0">60</text>
<text x="1182.0" y="881.0">80</text>
</g>
<text x="465.4" y="923.0" text-anchor="middle" style="font-family:'DejaVu Sans','Liberation Sans',sans-serif;font-size:33.2px;fill:#2e2e2e;stroke:#2e2e2e;stroke-width:0.4px">Time (s)</text>
<text x="994.6" y="923.0" text-anchor="middle" style="font-family:'DejaVu Sans','Liberation Sans',sans-serif;font-size:32.5px;fill:#2e2e2e;stroke:#2e2e2e;stroke-width:0.4px">Time (min)</text>
<text transform="translate(134.2 231.1) rotate(-90)" text-anchor="middle" style="font-family:'DejaVu Sans','Liberation Sans',sans-serif;font-size:35.3px;fill:#2e2e2e;stroke:#2e2e2e;stroke-width:0.4px">Norm. pupil reflection</text>
<text transform="translate(134.2 654.9) rotate(-90)" text-anchor="middle" style="font-family:'DejaVu Sans','Liberation Sans',sans-serif;font-size:35.3px;fill:#2e2e2e;stroke:#2e2e2e;stroke-width:0.4px">Norm. pupil reflection</text>
</g>
<g filter="url(#bl4)">
<text x="448.5" y="48.5" text-anchor="middle" style="font-family:'Liberation Sans',sans-serif;font-size:42px;fill:#000">Closing</text>
<text x="975.2" y="48.5" text-anchor="middle" style="font-family:'Liberation Sans',sans-serif;font-size:42px;fill:#000">Opening</text>
<text transform="translate(82.2 297.3) rotate(-90)" style="font-family:'Liberation Sans',sans-serif;font-size:42.5px;letter-spacing:-0.9px;fill:#000">15 ºC</text>
<text transform="translate(82.2 702.9) rotate(-90)" style="font-family:'Liberation Sans',sans-serif;font-size:42.5px;letter-spacing:-0.4px;fill:#000">22 ºC</text>
<text x="642.5" y="390.0" text-anchor="middle" style="font-family:'Liberation Sans',sans-serif;font-size:40px;fill:#000">a</text>
<text x="1170.6" y="397.6" text-anchor="middle" style="font-family:'Liberation Sans',sans-serif;font-size:40px;fill:#000">b</text>
<text x="643" y="771.2" text-anchor="middle" style="font-family:'Liberation Sans',sans-serif;font-size:40px;fill:#000">c</text>
<text x="1171.4" y="782.6" text-anchor="middle" style="font-family:'Liberation Sans',sans-serif;font-size:40px;fill:#000">d</text>
</g>
<g filter="url(#bl1)">
<line x1="502" y1="104.1" x2="598.5" y2="104.1" stroke="#f0283a" stroke-width="3.3"/>
<line x1="502" y1="137.8" x2="598.5" y2="137.8" stroke="#3a98c0" stroke-width="3.3"/>
<line x1="502" y1="171.2" x2="598.5" y2="171.2" stroke="#1a1a1a" stroke-width="3.3"/>
</g>
<g filter="url(#bl3)">
<text x="605.7" y="114.7" style="font-family:'DejaVu Sans','Liberation Sans',sans-serif;font-size:25.6px;letter-spacing:0.3px;fill:#262626;stroke:#262626;stroke-width:0.3px">CP</text>
<text x="605.7" y="148.4" style="font-family:'DejaVu Sans','Liberation Sans',sans-serif;font-size:25.6px;letter-spacing:0.3px;fill:#262626;stroke:#262626;stroke-width:0.3px">LB</text>
<text x="605.7" y="181.8" style="font-family:'DejaVu Sans','Liberation Sans',sans-serif;font-size:25.6px;letter-spacing:0.3px;fill:#262626;stroke:#262626;stroke-width:0.3px">GM</text>
</g>
<path d="M77.2 273.8h6.8v8.6h-6.8zM77.2 286.2h6.8v10.6h-6.8z" fill="#fefefe"/>
</svg>
</body>
</html>
